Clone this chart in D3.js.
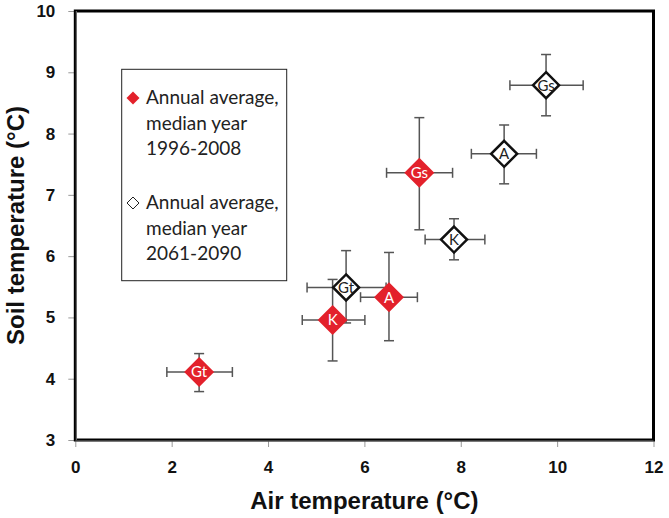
<!DOCTYPE html>
<html><head><meta charset="utf-8">
<script src="https://cdn.jsdelivr.net/npm/d3@7"></script>
<style>html,body{margin:0;padding:0;background:#fff;}</style>
</head><body>
<svg id="chart" width="669" height="518"></svg>
<script>
const siteLabels = ["Gt","K","A","Gs"];
const air1996 = [2.57,5.34,6.51,7.14];
const soil1996 = [4.11,4.96,5.33,7.36];
const airErr1996 = [[1.90,3.26],[4.71,6.01],[5.92,7.10],[6.46,7.83]];
const soilErr1996 = [[3.79,4.41],[4.29,5.62],[4.62,6.06],[6.43,8.26]];
const air2061 = [5.62,7.86,8.90,9.77];
const soil2061 = [5.49,6.27,7.67,8.79];
const airErr2061 = [[4.81,6.45],[7.26,8.50],[8.22,9.57],[9.02,10.54]];
const soilErr2061 = [[4.91,6.09],[5.94,6.61],[7.18,8.14],[8.29,9.29]];
const xTicks = [0,2,4,6,8,10,12];
const yTicks = [3,4,5,6,7,8,9,10];
const legendLines1 = ["Annual average,","median year","1996-2008"];
const legendLines2 = ["Annual average,","median year","2061-2090"];

const svg = d3.select("#chart");
const L=75.3, R=653.5, T=11, B=440;
const x = d3.scaleLinear().domain([0,12]).range([L,R]);
const y = d3.scaleLinear().domain([3,10]).range([B,T]);
const RED = "#e3212b";

// ticks
const xa = svg.append("g").attr("transform",`translate(0,${B})`)
  .call(d3.axisBottom(x).tickValues(xTicks).tickSize(7).tickPadding(10).tickFormat(d3.format("d")));
const ya = svg.append("g").attr("transform",`translate(${L},0)`)
  .call(d3.axisLeft(y).tickValues(yTicks).tickSize(7).tickPadding(10).tickFormat(d3.format("d")));
[xa,ya].forEach(a=>{
  a.select(".domain").remove();
  a.selectAll(".tick line").attr("stroke","#999").attr("stroke-width",1);
  a.selectAll(".tick text").attr("font-family","Liberation Sans, Arial, sans-serif")
    .attr("font-weight","bold").attr("font-size","17px").attr("fill","#111");
});
xa.selectAll(".tick text").attr("dy","0.71em").attr("y",21);
ya.selectAll(".tick text").attr("x",-20);

// frame
svg.append("rect").attr("x",L).attr("y",T).attr("width",R-L).attr("height",B-T)
  .attr("fill","none").attr("stroke","#000").attr("stroke-width",3);
svg.append("line").attr("x1",L).attr("x2",R).attr("y1",B+1).attr("y2",B+1).attr("stroke","#777").attr("stroke-width",1);
svg.append("line").attr("x1",L+1).attr("x2",L+1).attr("y1",T).attr("y2",B).attr("stroke","#777").attr("stroke-width",1);

// axis titles
svg.append("text").attr("x",(L+R)/2).attr("y",509).attr("text-anchor","middle")
  .attr("font-family","Liberation Sans, Arial, sans-serif").attr("font-weight","bold").attr("font-size","24px")
  .attr("fill","#111").text("Air temperature (°C)");
svg.append("text").attr("transform",`translate(24,${(T+B)/2}) rotate(-90)`).attr("text-anchor","middle")
  .attr("font-family","Liberation Sans, Arial, sans-serif").attr("font-weight","bold").attr("font-size","24px")
  .attr("fill","#111").text("Soil temperature (°C)");

function build(ax, so, axE, soE){
  return siteLabels.map((l,i)=>({label:l, x:ax[i], y:so[i], xe:axE[i], ye:soE[i]}));
}
const s1 = build(air1996, soil1996, airErr1996, soilErr1996);
const s2 = build(air2061, soil2061, airErr2061, soilErr2061);

const eg = svg.append("g").attr("stroke","#555").attr("stroke-width",1.5).attr("fill","none");
const cap = 5;
[...s1,...s2].forEach(d=>{
  eg.append("line").attr("x1",x(d.xe[0])).attr("x2",x(d.xe[1])).attr("y1",y(d.y)).attr("y2",y(d.y));
  eg.append("line").attr("x1",x(d.xe[0])).attr("x2",x(d.xe[0])).attr("y1",y(d.y)-cap).attr("y2",y(d.y)+cap);
  eg.append("line").attr("x1",x(d.xe[1])).attr("x2",x(d.xe[1])).attr("y1",y(d.y)-cap).attr("y2",y(d.y)+cap);
  eg.append("line").attr("x1",x(d.x)).attr("x2",x(d.x)).attr("y1",y(d.ye[0])).attr("y2",y(d.ye[1]));
  eg.append("line").attr("x1",x(d.x)-cap).attr("x2",x(d.x)+cap).attr("y1",y(d.ye[0])).attr("y2",y(d.ye[0]));
  eg.append("line").attr("x1",x(d.x)-cap).attr("x2",x(d.x)+cap).attr("y1",y(d.ye[1])).attr("y2",y(d.ye[1]));
});

function diamond(h){ return `M0,${-h}L${h},0L0,${h}L${-h},0Z`; }

const g2 = svg.append("g").selectAll("g").data(s2).join("g")
  .attr("transform",d=>`translate(${x(d.x)},${y(d.y)})`);
g2.append("path").attr("d",diamond(13)).attr("fill","#fff").attr("stroke","#111").attr("stroke-width",2.5);
g2.append("text").attr("text-anchor","middle").attr("dy","0.36em").attr("font-family","Lato, sans-serif")
  .attr("font-size","15px").attr("fill","#222").text(d=>d.label);

const g1 = svg.append("g").selectAll("g").data(s1).join("g")
  .attr("transform",d=>`translate(${x(d.x)},${y(d.y)})`);
g1.append("path").attr("d",diamond(15)).attr("fill",RED);
g1.append("text").attr("text-anchor","middle").attr("dy","0.36em").attr("font-family","Lato, sans-serif")
  .attr("font-size","15px").attr("fill","#fff").text(d=>d.label);

// legend
const lg = svg.append("g");
lg.append("rect").attr("x",121.7).attr("y",69.3).attr("width",165).attr("height",211.4)
  .attr("fill","#fff").attr("stroke","#222").attr("stroke-width",1);
lg.append("path").attr("transform","translate(133,98)").attr("d",diamond(6.5)).attr("fill",RED);
lg.append("path").attr("transform","translate(133,203)").attr("d",diamond(6)).attr("fill","#fff").attr("stroke","#222").attr("stroke-width",1);
function legText(lines, y0){
  lg.append("g").selectAll("text").data(lines).join("text")
    .attr("x",146).attr("y",(d,i)=>y0+i*25.5)
    .attr("font-family","Lato, sans-serif").attr("font-size","19px").attr("fill","#222").text(d=>d);
}
legText(legendLines1, 104);
legText(legendLines2, 209);
</script>
</body></html>
